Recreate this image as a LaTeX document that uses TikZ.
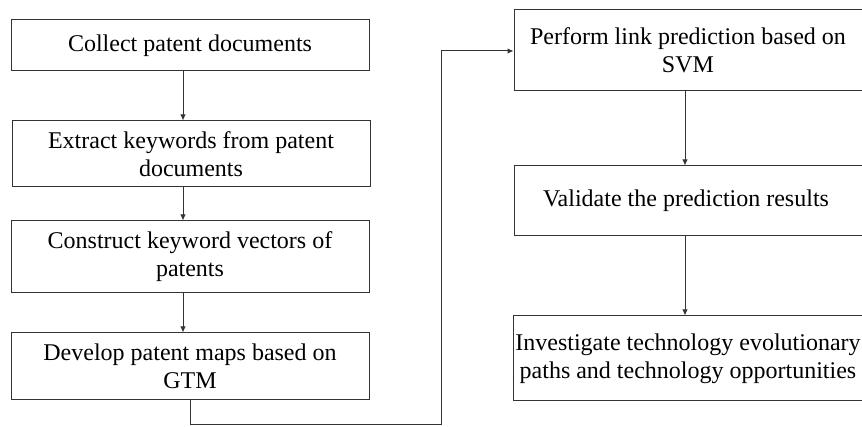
\documentclass[tikz,border=0pt]{standalone}
\usepackage{fontspec}
\setmainfont{Liberation Serif}
\usetikzlibrary{arrows.meta}
\definecolor{linec}{HTML}{333333}
\begin{document}
\begin{tikzpicture}[x=1pt,y=-1pt,
  stepbox/.style={draw=linec,line width=1pt,rectangle,inner sep=0pt,align=center,
    font=\fontsize{24}{28}\selectfont,text=black},
  conn/.style={draw=linec,line width=1pt,-{Latex[length=6pt,width=5.5pt]}}]
\useasboundingbox (0,0) rectangle (862,427);
\clip (0,0) rectangle (862,427);
\node[stepbox,minimum width=358pt,minimum height=51pt] (b1) at (190,45.5) {Collect patent documents};
\node[stepbox,minimum width=358pt,minimum height=66pt] (b2) at (191,154) {Extract keywords from patent\\documents};
\node[stepbox,minimum width=358pt,minimum height=72pt] (b3) at (190,257) {Construct keyword vectors of\\patents};
\node[stepbox,minimum width=358pt,minimum height=67pt] (b4) at (190,366.5) {Develop patent maps based on\\GTM};
\node[stepbox,minimum width=352pt,minimum height=81pt] (b5) at (690,50.5) {\hspace*{-4pt}Perform link prediction based on\\\hspace*{-4pt}SVM};
\node[stepbox,minimum width=352pt,minimum height=70pt] (b6) at (690,201) {\hspace*{-8pt}Validate the prediction results};
\node[stepbox,minimum width=353pt,minimum height=85pt] (b7) at (689.5,358.5) {\hspace*{-3pt}Investigate technology evolutionary\\\hspace*{-3pt}paths and technology opportunities};
\coordinate (c1) at (190,424);
\coordinate (c2) at (441,424);
\coordinate (c3) at (441,51);
\draw[conn] (b1.south -| 183,0) -- (b2.north -| 183,0);
\draw[conn] (b2.south -| 183,0) -- (b3.north -| 183,0);
\draw[conn] (b3.south -| 183,0) -- (b4.north -| 183,0);
\draw[conn] (b4.south -| c1) -- (c1) -- (c2) -- (c3) -- (c3 -| b5.west);
\draw[conn] (b5.south -| 685,0) -- (b6.north -| 685,0);
\draw[conn] (b6.south -| 685,0) -- (b7.north -| 685,0);
\end{tikzpicture}
\end{document}
